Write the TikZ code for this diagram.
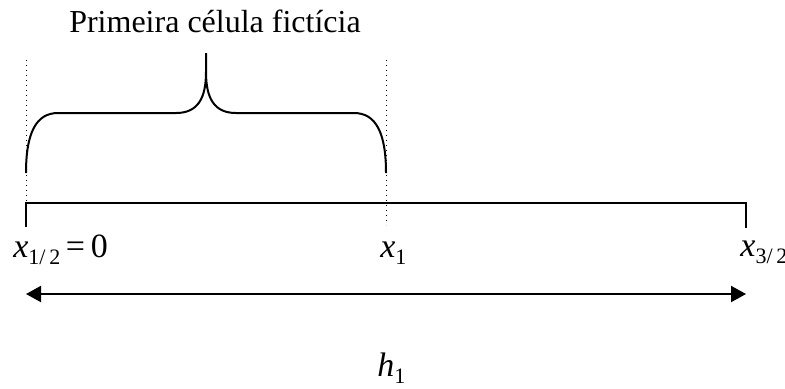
\documentclass[tikz,border=0pt]{standalone}
\usepackage{fontspec}
\setmainfont{Liberation Serif}
\usetikzlibrary{arrows.meta}
\newcommand{\mysub}[1]{\raisebox{-0.5ex}{\fontsize{11}{11}\selectfont #1}}
\begin{document}
\begin{tikzpicture}[x=0.5pt,y=-0.5pt,
  lbl/.style={inner sep=0pt,anchor=base west,font=\fontsize{17}{19}\selectfont},
  axisline/.style={line width=1pt},
  guide/.style={line width=0.5pt,dotted},
  bracepath/.style={line width=1pt},
  dim/.style={line width=1pt,{Triangle[length=7.5pt,width=8pt]}-{Triangle[length=7.5pt,width=8pt]}}]
\useasboundingbox (0,0) rectangle (785,388);
% coordinates
\coordinate (L0) at (26,203);
\coordinate (Lt) at (26,227);
\coordinate (Lg) at (26,60);
\coordinate (M0) at (386,203);
\coordinate (Mg) at (386,60);
\coordinate (Mb) at (386,225);
\coordinate (R0) at (746,203);
\coordinate (Rt) at (746,228);
\coordinate (AL) at (26,294);
\coordinate (AR) at (746,294);
% guides
\draw[guide] (Lg) -- (L0);
\draw[guide] (Mg) -- (Mb);
% axis
\draw[axisline] (Lt) -- (L0) -- (R0) -- (Rt);
% brace
\draw[bracepath] (26,173) .. controls (26,133) and (36,113) .. (58,113)
  -- (176,113) .. controls (198,113) and (206,98) .. (206,72) -- (206,53)
  (206,53) -- (206,72) .. controls (206,98) and (214,113) .. (236,113)
  -- (354,113) .. controls (376,113) and (386,133) .. (386,173);
% dimension arrow
\draw[dim] (AL) -- (AR);
% labels
\node[inner sep=0pt,anchor=base,font=\fontsize{16}{18}\selectfont] (title) at (215,32) {Primeira célula fictícia};
\node[lbl] (xa) at (13,257) {\textit{x}\mysub{1/\,2}\,=\,0};
\node[lbl] (xb) at (380,257) {\textit{x}\mysub{1}};
\node[lbl] (xc) at (740,256) {\textit{x}\mysub{3/\,2}};
\node[lbl] (h) at (377,376) {\textit{h}\mysub{1}};
\end{tikzpicture}
\end{document}
